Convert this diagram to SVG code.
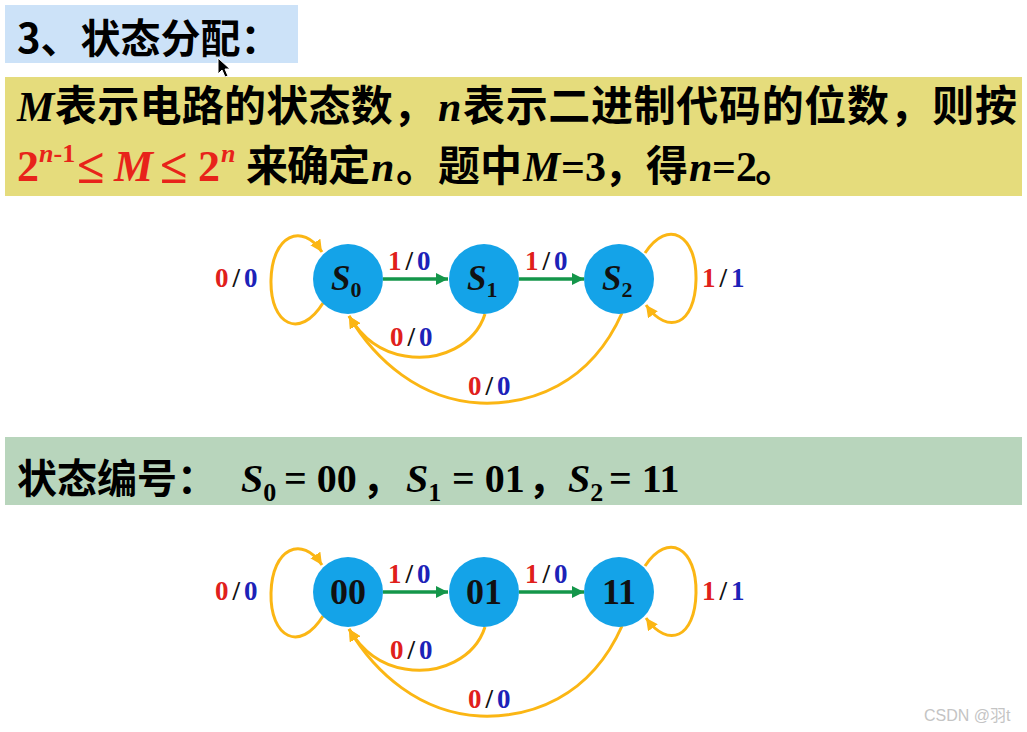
<svg xmlns="http://www.w3.org/2000/svg" width="1027" height="732" viewBox="0 0 1027 732">
<style>
.cjk{font-family:"Noto Sans CJK SC","Liberation Sans",sans-serif;font-weight:bold;fill:#000}
.ser{font-family:"Liberation Serif","Noto Sans CJK SC",serif;font-weight:bold}
.it{font-style:italic}
.red{fill:#e8231a}
.lbl{font-family:"Liberation Serif",serif;font-weight:bold;font-size:27px}
.r{fill:#e0201b}.k{fill:#111}.b{fill:#1c22b8}
.node{fill:#14a3e8}
.st{font-family:"Liberation Serif",serif;font-weight:bold;font-style:italic;font-size:35px;fill:#111}
.sub{font-size:22px;font-style:normal}
.code{font-family:"Liberation Serif",serif;font-weight:bold;font-size:36px;fill:#111}
.orn{fill:none;stroke:#fbb614;stroke-width:3}
.grn{fill:none;stroke:#14964a;stroke-width:3.5}
</style>
<defs>
<marker id="ao" markerUnits="userSpaceOnUse" markerWidth="14" markerHeight="12" refX="12" refY="6" orient="auto"><path d="M0,0 L12,6 L0,12 z" fill="#fbb614"/></marker>
<marker id="ag" markerUnits="userSpaceOnUse" markerWidth="14" markerHeight="12" refX="12" refY="6" orient="auto"><path d="M0,0 L12,6 L0,12 z" fill="#14964a"/></marker>
</defs>
<rect width="1027" height="732" fill="#fff"/>
<g id="title">
<rect x="5" y="5" width="293" height="58" fill="#cce2f8"/>
<text class="cjk" x="17" y="53" font-size="40">3、状态分配：</text>
</g>
<polygon points="218,58 218,74 222,70 225,77 228,76 225,69 230,69" fill="#000" stroke="#fff" stroke-width="1"/>
<g id="rule">
<rect x="5" y="77" width="1017" height="119" fill="#e5dc7c"/>
<text x="17" y="121" font-size="42"><tspan class="ser it">M</tspan></text>
<text class="cjk" x="55" y="121" font-size="42" textLength="380" lengthAdjust="spacing">表示电路的状态数，</text>
<text class="ser it" x="438" y="121" font-size="42">n</text>
<text class="cjk" x="463" y="121" font-size="42" textLength="554" lengthAdjust="spacing">表示二进制代码的位数，则按</text>
<g class="red">
<text class="ser red" x="17" y="181" font-size="44">2</text>
<text class="ser red" x="39" y="162" font-size="26"><tspan class="it">n</tspan>-1</text>
<text class="ser red" x="77" y="183" font-size="50">≤</text>
<text class="ser red it" x="114" y="181" font-size="44">M</text>
<text class="ser red" x="160" y="183" font-size="50">≤</text>
<text class="ser red" x="198" y="181" font-size="44">2</text>
<text class="ser red it" x="221" y="162" font-size="26">n</text>
</g>
<text class="cjk" x="246" y="181" font-size="42" textLength="124" lengthAdjust="spacing">来确定</text>
<text class="ser it" x="371" y="181" font-size="42">n</text>
<text class="cjk" x="396" y="181" font-size="42">。</text>
<text class="cjk" x="438" y="181" font-size="42">题中</text>
<text class="ser it" x="523" y="181" font-size="42">M</text>
<text class="ser" x="561" y="181" font-size="42">=3</text>
<text class="cjk" x="604" y="181" font-size="42">，得</text>
<text class="ser it" x="689" y="181" font-size="42">n</text>
<text class="ser" x="712" y="181" font-size="42">=2</text>
<text class="cjk" x="755" y="181" font-size="42">。</text>
</g>
<g id="codes">
<rect x="5" y="437" width="1017" height="68" fill="#b8d5bc"/>
<text class="cjk" x="17" y="493" font-size="40">状态编号：</text>
<text class="ser" font-size="40" y="492"><tspan x="241" class="it">S</tspan><tspan font-size="26" dy="9">0</tspan><tspan dy="-9" x="284">= 00</tspan></text>
<text class="cjk" x="362" y="493" font-size="40">，</text>
<text class="ser" font-size="40" y="492"><tspan x="406" class="it">S</tspan><tspan font-size="26" dy="9">1</tspan><tspan dy="-9" x="452">= 01</tspan></text>
<text class="cjk" x="528" y="493" font-size="40">，</text>
<text class="ser" font-size="40" y="492"><tspan x="568" class="it">S</tspan><tspan font-size="26" dy="9">2</tspan><tspan dy="-9" x="609">= 11</tspan></text>
</g>
<g id="diagram1">
<g id="edges1">
<line class="grn" x1="383" y1="279" x2="448" y2="279" marker-end="url(#ag)"/>
<line class="grn" x1="519" y1="279" x2="584" y2="279" marker-end="url(#ag)"/>
<path class="orn" d="M323,303 C300,340 270,325 271,280 C272,235 302,222 322,252" marker-end="url(#ao)"/>
<path class="orn" d="M645,253 C668,218 697,235 696,280 C695,325 668,336 646,305" marker-end="url(#ao)"/>
<path class="orn" d="M485,314 C475,345 440,362 405,356 C380,352 362,338 349,316" marker-end="url(#ao)"/>
<path class="orn" d="M622,313 C590,385 530,405 480,403 C420,400 375,360 349,316" marker-end="url(#ao)"/>
<text class="lbl" x="215" y="287"><tspan class="r">0</tspan><tspan class="k" dx="4">/</tspan><tspan class="b" dx="4">0</tspan></text>
<text class="lbl" x="388" y="270"><tspan class="r">1</tspan><tspan class="k" dx="4">/</tspan><tspan class="b" dx="4">0</tspan></text>
<text class="lbl" x="525" y="270"><tspan class="r">1</tspan><tspan class="k" dx="4">/</tspan><tspan class="b" dx="4">0</tspan></text>
<text class="lbl" x="390" y="346"><tspan class="r">0</tspan><tspan class="k" dx="4">/</tspan><tspan class="b" dx="4">0</tspan></text>
<text class="lbl" x="468" y="395"><tspan class="r">0</tspan><tspan class="k" dx="4">/</tspan><tspan class="b" dx="4">0</tspan></text>
<text class="lbl" x="702" y="287"><tspan class="r">1</tspan><tspan class="k" dx="4">/</tspan><tspan class="b" dx="4">1</tspan></text>
</g>
<g id="S0"><circle class="node" cx="348" cy="279" r="35"/><text class="st" x="331" y="290">S<tspan class="sub" dy="7">0</tspan></text></g>
<g id="S1"><circle class="node" cx="484" cy="279" r="35"/><text class="st" x="467" y="290">S<tspan class="sub" dy="7">1</tspan></text></g>
<g id="S2"><circle class="node" cx="619" cy="279" r="35"/><text class="st" x="602" y="290">S<tspan class="sub" dy="7">2</tspan></text></g>
</g>
<g id="diagram2" transform="translate(0,313)">
<g id="edges2">
<line class="grn" x1="383" y1="279" x2="448" y2="279" marker-end="url(#ag)"/>
<line class="grn" x1="519" y1="279" x2="584" y2="279" marker-end="url(#ag)"/>
<path class="orn" d="M323,303 C300,340 270,325 271,280 C272,235 302,222 322,252" marker-end="url(#ao)"/>
<path class="orn" d="M645,253 C668,218 697,235 696,280 C695,325 668,336 646,305" marker-end="url(#ao)"/>
<path class="orn" d="M485,314 C475,345 440,362 405,356 C380,352 362,338 349,316" marker-end="url(#ao)"/>
<path class="orn" d="M622,313 C590,385 530,405 480,403 C420,400 375,360 349,316" marker-end="url(#ao)"/>
<text class="lbl" x="215" y="287"><tspan class="r">0</tspan><tspan class="k" dx="4">/</tspan><tspan class="b" dx="4">0</tspan></text>
<text class="lbl" x="388" y="270"><tspan class="r">1</tspan><tspan class="k" dx="4">/</tspan><tspan class="b" dx="4">0</tspan></text>
<text class="lbl" x="525" y="270"><tspan class="r">1</tspan><tspan class="k" dx="4">/</tspan><tspan class="b" dx="4">0</tspan></text>
<text class="lbl" x="390" y="346"><tspan class="r">0</tspan><tspan class="k" dx="4">/</tspan><tspan class="b" dx="4">0</tspan></text>
<text class="lbl" x="468" y="395"><tspan class="r">0</tspan><tspan class="k" dx="4">/</tspan><tspan class="b" dx="4">0</tspan></text>
<text class="lbl" x="702" y="287"><tspan class="r">1</tspan><tspan class="k" dx="4">/</tspan><tspan class="b" dx="4">1</tspan></text>
</g>
<g id="N00"><circle class="node" cx="348" cy="279" r="35"/><text class="code" x="348" y="291" text-anchor="middle">00</text></g>
<g id="N01"><circle class="node" cx="484" cy="279" r="35"/><text class="code" x="484" y="291" text-anchor="middle">01</text></g>
<g id="N11"><circle class="node" cx="619" cy="279" r="35"/><text class="code" x="619" y="291" text-anchor="middle">11</text></g>
</g>
<text x="924" y="721" font-family="Liberation Sans,'Noto Sans CJK SC',sans-serif" font-size="16" fill="#c4c4c4">CSDN @羽t</text>
</svg>
